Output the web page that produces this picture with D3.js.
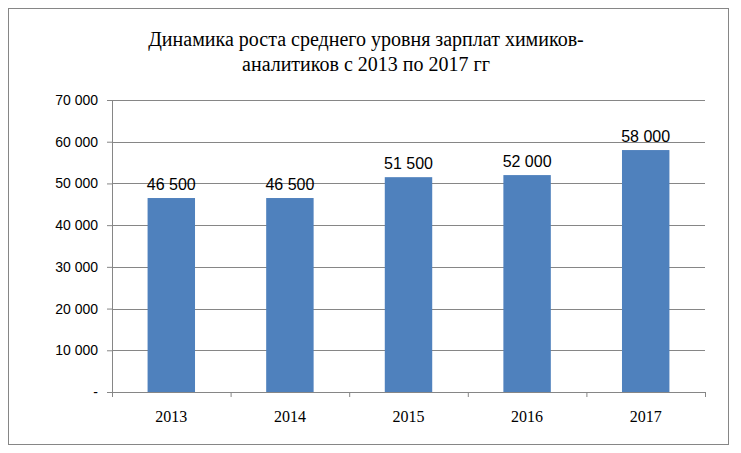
<!DOCTYPE html>
<html>
<head>
<meta charset="utf-8">
<script src="https://cdn.jsdelivr.net/npm/d3@7"></script>
<style>
body { margin: 0; background: #fff; }
</style>
</head>
<body>
<div id="chart"></div>
<script>
var years = ["2013", "2014", "2015", "2016", "2017"];
var salaries = [46500, 46500, 51500, 52000, 58000];
var yTicks = [0, 10000, 20000, 30000, 40000, 50000, 60000, 70000];
var titleLines = ["Динамика роста среднего уровня зарплат химиков-", "аналитиков с 2013 по 2017 гг"];

var width = 741, height = 453;
var margin = {top: 100, right: 36, bottom: 61, left: 112};
var w = width - margin.left - margin.right,
    h = height - margin.top - margin.bottom;

function fmt(v) {
    if (v === 0) return "-";
    return d3.format(",")(v).replace(/,/g, " ");
}

var svg = d3.select("#chart").append("svg")
    .attr("width", width)
    .attr("height", height);

// outer frame
svg.append("rect")
    .attr("x", 8.5).attr("y", 8.5)
    .attr("width", 720).attr("height", 436)
    .attr("fill", "#fff")
    .attr("stroke", "#868686");

svg.selectAll("text.title")
    .data(titleLines)
    .enter().append("text")
    .attr("class", "title")
    .attr("x", 366)
    .attr("y", function(d, i) { return 46 + i * 25; })
    .attr("text-anchor", "middle")
    .style("font-family", "'Liberation Serif', serif")
    .style("font-size", "20px")
    .text(function(d) { return d; });

var g = svg.append("g")
    .attr("transform", "translate(" + margin.left + "," + margin.top + ")");

var x = d3.scaleBand().domain(years).range([0, w]).paddingInner(0.6).paddingOuter(0.3);
var y = d3.scaleLinear().domain([0, 70000]).range([h, 0]);

// grid
g.selectAll("line.grid")
    .data(yTicks)
    .enter().append("line")
    .attr("x1", 0).attr("x2", w)
    .attr("y1", function(d) { return Math.round(y(d)) + 0.5; })
    .attr("y2", function(d) { return Math.round(y(d)) + 0.5; })
    .attr("stroke", "#868686");

var yAxis = d3.axisLeft(y).tickValues(yTicks).tickFormat(fmt).tickSize(5);
var ya = g.append("g").call(yAxis);
ya.selectAll("text")
    .style("font-family", "'Liberation Sans', Arial, sans-serif")
    .style("font-size", "14px")
    .attr("x", -14);
ya.selectAll("line, path").attr("stroke", "#868686");

var xAxis = d3.axisBottom(d3.scalePoint().domain(d3.range(6)).range([0, w]))
    .tickSize(5).tickFormat("");
var xa = g.append("g").attr("transform", "translate(0," + h + ")").call(xAxis);
xa.selectAll("line, path").attr("stroke", "#868686");

g.selectAll("text.xl")
    .data(years)
    .enter().append("text")
    .attr("class", "xl")
    .attr("x", function(d) { return x(d) + x.bandwidth() / 2; })
    .attr("y", h + 30)
    .attr("text-anchor", "middle")
    .style("font-family", "'Liberation Serif', serif")
    .style("font-size", "16px")
    .text(function(d) { return d; });

g.selectAll("rect.bar")
    .data(salaries)
    .enter().append("rect")
    .attr("class", "bar")
    .attr("x", function(d, i) { return x(years[i]); })
    .attr("y", function(d) { return y(d); })
    .attr("width", x.bandwidth())
    .attr("height", function(d) { return h - y(d); })
    .attr("fill", "#4f81bd");

g.selectAll("text.val")
    .data(salaries)
    .enter().append("text")
    .attr("class", "val")
    .attr("x", function(d, i) { return x(years[i]) + x.bandwidth() / 2; })
    .attr("y", function(d) { return y(d) - 8; })
    .attr("text-anchor", "middle")
    .style("font-family", "'Liberation Sans', Arial, sans-serif")
    .style("font-size", "16px")
    .text(fmt);
</script>
</body>
</html>
